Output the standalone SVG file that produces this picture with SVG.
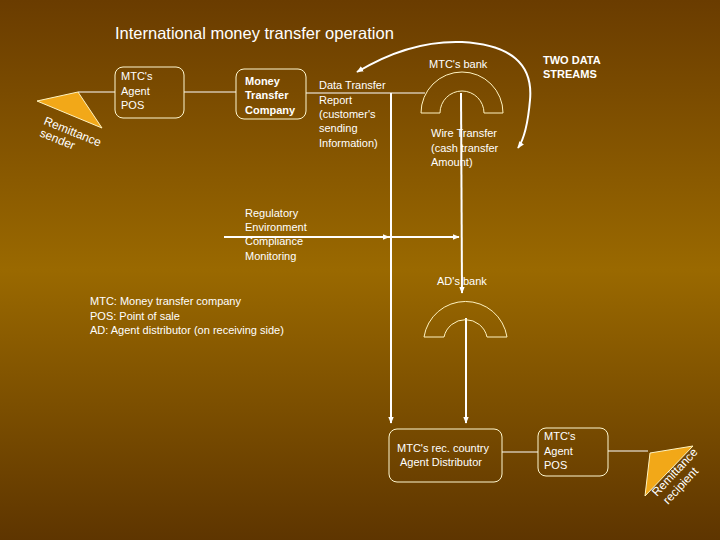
<svg xmlns="http://www.w3.org/2000/svg" width="720" height="540" viewBox="0 0 720 540">
<defs>
<linearGradient id="bg" x1="0" y1="0" x2="0" y2="1">
<stop offset="0" stop-color="#6a3c00"/>
<stop offset="0.5" stop-color="#9a6900"/>
<stop offset="1" stop-color="#5e3500"/>
</linearGradient>
<marker id="ah" viewBox="0 0 10 10" refX="9" refY="5" markerWidth="7" markerHeight="7" orient="auto-start-reverse" markerUnits="userSpaceOnUse"><path d="M0,1 L10,5 L0,9 z" fill="#fff"/></marker>
</defs>
<style>
text{font-family:"Liberation Sans",Arial,sans-serif;fill:#fff;font-size:11px}
.b{font-weight:bold}
.box{fill:none;stroke:#fff8d0;stroke-width:1}
.ln{fill:none;stroke:#fff;stroke-width:1.2}
.th{fill:none;stroke:#fff;stroke-width:2}
.tri{fill:#f2a818;stroke:#fff3c0;stroke-width:1}
.arch{fill:none;stroke:#fff3c0;stroke-width:1}
</style>
<rect width="720" height="540" fill="url(#bg)"/>
<text x="115" y="39" style="font-size:16.5px">International money transfer operation</text>
<g id="connectors">
<line class="ln" x1="78" y1="92" x2="115" y2="92"/>
<line class="ln" x1="184" y1="92" x2="236" y2="92"/>
<line class="ln" x1="306" y1="93" x2="425" y2="93"/>
<line class="th" x1="391" y1="93" x2="391" y2="423" marker-end="url(#ah)"/>
<line class="th" x1="461" y1="93" x2="462" y2="293" marker-end="url(#ah)"/>
<line class="th" x1="466" y1="318" x2="466" y2="423" marker-end="url(#ah)"/>
<line class="th" x1="224" y1="237" x2="389" y2="237" marker-end="url(#ah)"/>
<line class="th" x1="389" y1="237" x2="459" y2="237" marker-end="url(#ah)"/>
<path class="th" d="M357,72 Q410,40 462,42 Q535,46 530,100 Q527,135 518,148" marker-start="url(#ah)" marker-end="url(#ah)"/>
<line class="ln" x1="502" y1="452" x2="538" y2="452"/>
<line class="ln" x1="608" y1="451" x2="648" y2="451"/>
</g>
<g id="sender">
<polygon class="tri" points="37,101 78,92 102,128"/>
<text transform="translate(43,124) rotate(22)" style="font-size:12px">Remittance</text>
<text transform="translate(39,136) rotate(22)" style="font-size:12px">sender</text>
</g>
<g id="agent-pos-send">
<rect class="box" x="115" y="67" width="69" height="51" rx="8"/>
<text x="121" y="80">MTC's</text><text x="121" y="95">Agent</text><text x="121" y="109">POS</text>
</g>
<g id="mtc">
<rect class="box" x="236" y="69" width="70" height="50" rx="8"/>
<text class="b" x="245" y="85">Money</text><text class="b" x="245" y="99">Transfer</text><text class="b" x="245" y="114">Company</text>
</g>
<g id="data-report">
<text x="319" y="89">Data Transfer</text><text x="319" y="104">Report</text><text x="319" y="118">(customer's</text><text x="319" y="132">sending</text><text x="319" y="147">Information)</text>
</g>
<g id="mtc-bank">
<text x="429" y="68">MTC's bank</text>
<path class="arch" d="M421,113 A41,41 0 0 1 503,113 L484,113 A22,22 0 0 0 440,113 Z"/>
</g>
<g id="wire">
<text x="431" y="137">Wire Transfer</text><text x="431" y="152">(cash transfer</text><text x="431" y="166">Amount)</text>
</g>
<g id="two-streams">
<text class="b" x="543" y="64">TWO DATA</text><text class="b" x="543" y="78">STREAMS</text>
</g>
<g id="regulatory">
<text x="245" y="217">Regulatory</text><text x="245" y="231">Environment</text><text x="245" y="245">Compliance</text><text x="245" y="260">Monitoring</text>
</g>
<g id="ad-bank">
<text x="437" y="285">AD's bank</text>
<path class="arch" d="M424,337 A42,42 0 0 1 507,337 L487,337 A22,22 0 0 0 444,337 Z"/>
</g>
<g id="legend">
<text x="90" y="305">MTC: Money transfer company</text>
<text x="90" y="320">POS: Point of sale</text>
<text x="90" y="334">AD: Agent distributor (on receiving side)</text>
</g>
<g id="rec-distributor">
<rect class="box" x="389" y="429" width="113" height="53" rx="8"/>
<text x="397" y="452">MTC's rec. country</text><text x="400" y="466">Agent Distributor</text>
</g>
<g id="agent-pos-rec">
<rect class="box" x="538" y="428" width="70" height="48" rx="8"/>
<text x="544" y="440">MTC's</text><text x="544" y="455">Agent</text><text x="544" y="469">POS</text>
</g>
<g id="recipient">
<polygon class="tri" points="650,453 693,446 645,496"/>
<text transform="translate(657,497) rotate(-47)" style="font-size:12px">Remittance</text>
<text transform="translate(668,505) rotate(-47)" style="font-size:12px">recipient</text>
</g>
</svg>
